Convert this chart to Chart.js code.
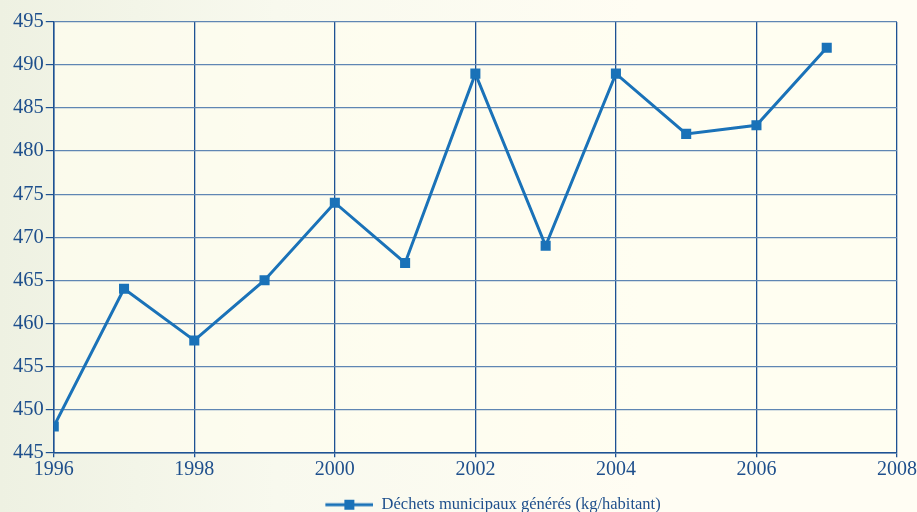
<!DOCTYPE html>
<html>
<head>
<meta charset="utf-8">
<script src="https://cdn.jsdelivr.net/npm/chart.js@4"></script>
<style>
  html, body { margin: 0; padding: 0; }
  body {
    width: 917px; height: 512px; overflow: hidden;
    background: linear-gradient(to right, #eef1e2 0%, #f8f9ee 30%, #fffdf3 70%, #fffdf3 100%);
  }
  #wrap { width: 917px; height: 512px; position: relative; }
</style>
</head>
<body>
<div id="wrap"><canvas id="chart"></canvas></div>
<script>
const years = [1996, 1997, 1998, 1999, 2000, 2001, 2002, 2003, 2004, 2005, 2006, 2007];
const dechets = [448, 464, 458, 465, 474, 467, 489, 469, 489, 482, 483, 492];
const seriesLabel = 'Déchets municipaux générés (kg/habitant)';

const lineColor = '#1a72b8';
const axisColor = '#1e5293';
const textColor = '#1e4f8c';

// legend marker: line with a square, with empty room on the left so the
// legend sits a bit right of centre like the original
const shift = 62;
const marker = document.createElement('canvas');
marker.width = 48 + shift; marker.height = 12;
const m = marker.getContext('2d');
m.strokeStyle = lineColor; m.lineWidth = 3;
m.beginPath(); m.moveTo(shift, 6); m.lineTo(shift + 48, 6); m.stroke();
m.fillStyle = lineColor; m.fillRect(shift + 19, 1, 10, 10);

const plotBg = {
  id: 'plotBg',
  beforeDraw(chart) {
    const { ctx, chartArea: a } = chart;
    ctx.save();
    ctx.fillStyle = 'rgba(255,253,240,0.7)';
    ctx.fillRect(a.left, a.top, a.right - a.left, a.bottom - a.top);
    ctx.restore();
  }
};

const ctx = document.getElementById('chart').getContext('2d');
new Chart(ctx, {
  type: 'line',
  data: {
    datasets: [{
      label: seriesLabel,
      data: years.map((y, i) => ({ x: y, y: dechets[i] })),
      borderColor: lineColor,
      backgroundColor: lineColor,
      borderWidth: 3,
      pointStyle: 'rect',
      pointRadius: 5,
      pointHoverRadius: 5,
      tension: 0
    }]
  },
  options: {
    responsive: true,
    maintainAspectRatio: false,
    animation: false,
    layout: { padding: { left: 11, right: 4, top: 22, bottom: -11 } },
    plugins: {
      tooltip: { enabled: false },
      legend: {
        position: 'bottom',
        title: { display: true, text: '', font: { size: 1 }, padding: { top: 14, bottom: 0 } },
        labels: {
          color: textColor,
          font: { family: 'Liberation Serif', size: 16.5 },
          usePointStyle: true,
          pointStyle: marker,
          pointStyleWidth: 48 + shift,
          padding: 0
        }
      }
    },
    scales: {
      x: {
        type: 'linear',
        min: 1996, max: 2008,
        ticks: {
          stepSize: 2,
          color: textColor,
          font: { family: 'Liberation Serif', size: 20 },
          padding: 0,
          callback: v => String(v)
        },
        grid: { color: axisColor, lineWidth: 1.3, tickLength: 5, tickColor: axisColor },
        border: { color: axisColor, width: 1.5 }
      },
      y: {
        min: 445, max: 495,
        ticks: {
          stepSize: 5,
          color: textColor,
          font: { family: 'Liberation Serif', size: 20.5 },
          padding: 2
        },
        grid: { color: '#5f86b3', lineWidth: 1.2, tickLength: 8, tickColor: axisColor },
        border: { color: axisColor, width: 1.5 }
      }
    }
  },
  plugins: [plotBg]
});
</script>
</body>
</html>
